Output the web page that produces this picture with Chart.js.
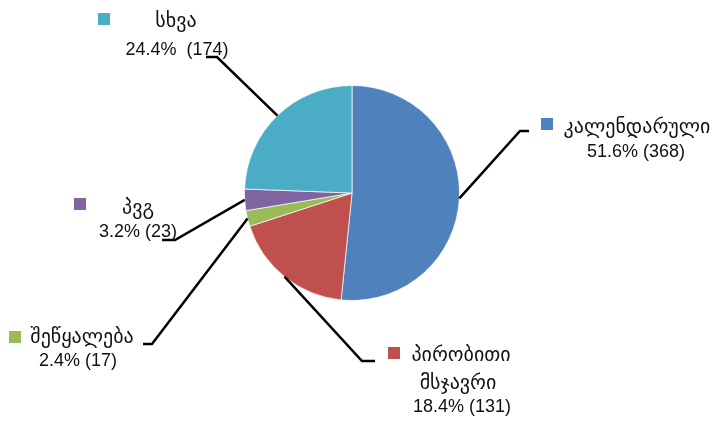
<!DOCTYPE html>
<html>
<head>
<meta charset="utf-8">
<script src="https://cdn.jsdelivr.net/npm/chart.js@4"></script>
<style>
  html, body { margin: 0; padding: 0; background: #fff; }
  #wrap { width: 717px; height: 421px; }
</style>
</head>
<body>
<div id="wrap"><canvas id="pieChart" width="717" height="421"></canvas></div>
<script>
// Data
const categories = ["კალენდარული", "პირობითი მსჯავრი", "შეწყალება", "პვგ", "სხვა"];
const counts = [368, 131, 17, 23, 174];
const sliceColors = ["#4F81BD", "#C0504D", "#9BBB59", "#8064A2", "#4BACC6"];

// Label placement (leader bend point, leader end, key box, text lines)
const labelLayout = [
  { bend: [520, 131], end: [529, 131], key: [541, 118], lines: [["კალენდარული", 637, 128], ["{pct} ({n})", 636, 152]] },
  { bend: [362, 361], end: [375, 361], key: [388, 347], lines: [["პირობითი", 461, 356], ["მსჯავრი", 458, 384], ["{pct} ({n})", 462, 407]] },
  { bend: [152, 344], end: [143, 344], key: [9, 331], lines: [["შეწყალება", 82, 338], ["{pct} ({n})", 78, 361]] },
  { bend: [175, 240], end: [162, 240], key: [74, 198], lines: [["პვგ", 138, 209], ["{pct} ({n})", 138, 232]] },
  { bend: [217, 57], end: [206, 57], key: [98, 13], lines: [["სხვა", 176, 22], ["{pct}  ({n})", 177, 50]] }
];

const total = counts.reduce((a, b) => a + b, 0);

const leaderLabels = {
  id: "leaderLabels",
  afterDraw(chart) {
    const ctx = chart.ctx;
    const meta = chart.getDatasetMeta(0);
    ctx.save();
    meta.data.forEach((arc, i) => {
      const lay = labelLayout[i];
      const mid = (arc.startAngle + arc.endAngle) / 2;
      const sx = arc.x + Math.cos(mid) * arc.outerRadius;
      const sy = arc.y + Math.sin(mid) * arc.outerRadius;
      // leader line
      ctx.strokeStyle = "#000";
      ctx.lineWidth = 2.5;
      ctx.beginPath();
      ctx.moveTo(sx, sy);
      ctx.lineTo(lay.bend[0], lay.bend[1]);
      ctx.lineTo(lay.end[0], lay.end[1]);
      ctx.stroke();
      // legend key
      ctx.fillStyle = sliceColors[i];
      ctx.fillRect(lay.key[0], lay.key[1], 12, 12);
      // text
      const pct = (counts[i] / total * 100).toFixed(1) + "%";
      ctx.fillStyle = "#111";
      ctx.textAlign = "center";
      ctx.textBaseline = "middle";
      lay.lines.forEach(([txt, x, y]) => {
        const s = txt.replace("{pct}", pct).replace("{n}", counts[i]);
        ctx.font = /[\u10A0-\u10FF]/.test(s) ? "20px 'DejaVu Sans'" : "18px 'Liberation Sans'";
        ctx.fillText(s, x, y);
      });
    });
    ctx.restore();
  }
};

new Chart(document.getElementById("pieChart").getContext("2d"), {
  type: "pie",
  data: {
    labels: categories,
    datasets: [{
      data: counts,
      backgroundColor: sliceColors,
      borderColor: "rgba(255,255,255,0.7)",
      borderWidth: 1
    }]
  },
  options: {
    responsive: false,
    animation: false,
    layout: { padding: { top: 85, bottom: 120, left: 244, right: 257 } },
    plugins: {
      legend: { display: false },
      tooltip: { enabled: false }
    }
  },
  plugins: [leaderLabels]
});
</script>
</body>
</html>
